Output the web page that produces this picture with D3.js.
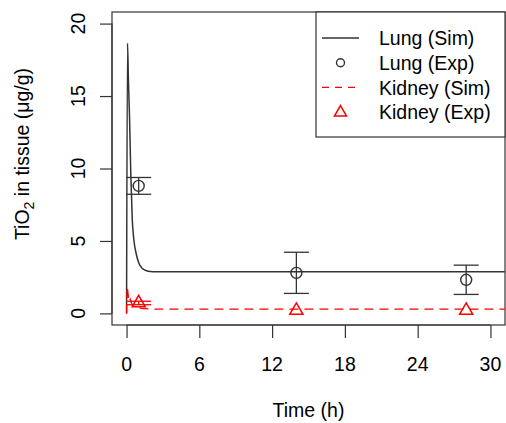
<!DOCTYPE html>
<html><head><meta charset="utf-8">
<script src="https://cdn.jsdelivr.net/npm/d3@7"></script>
<style>body{margin:0;background:#fff}svg{display:block}text{font-family:"Liberation Sans",Arial,sans-serif;fill:#000}</style>
</head><body><svg id="c" width="506" height="423"></svg>
<script>
// ---- data ----
const xTicks = [0, 6, 12, 18, 24, 30];
const yTicks = [0, 5, 10, 15, 20];
const lungSimTime = [0, 0.08, 0.15, 0.25, 0.35, 0.47, 0.6, 0.8, 1.0, 1.3, 1.7, 2.2, 3, 6, 12, 20, 32];
const lungSimVal  = [0, 18.65, 16.2, 13.4, 9.6, 6.5, 5.1, 4.1, 3.5, 3.1, 2.93, 2.88, 2.87, 2.87, 2.87, 2.87, 2.87];
const kidSimTime = [0, 0.05, 0.2, 0.3, 0.45, 0.7, 1.2, 2, 32];
const kidSimVal  = [0, 1.88, 0.8, 0.98, 0.6, 0.45, 0.35, 0.3, 0.3];
const expTime = [1, 14, 28];
const lungExpMean = [8.8, 2.8, 2.32];
const lungExpSd   = [0.58, 1.42, 1.01];
const kidExpMean  = [0.72, 0.2, 0.2];
const kidExpSd    = [0.12, 0, 0];
const legendLabels = ["Lung (Sim)", "Lung (Exp)", "Kidney (Sim)", "Kidney (Exp)"];

// ---- layout ----
const L = 112, R = 505, T = 12, B = 325;
const svg = d3.select("#c");
const x = d3.scaleLinear().domain([-1.2, 31.2]).range([L, R]);
const y = d3.scaleLinear().domain([-0.8, 20.8]).range([B, T]);
const axisCol = "#333";
const red = "#ff0000";

svg.append("defs").append("clipPath").attr("id", "clip")
  .append("rect").attr("x", L).attr("y", T).attr("width", R - L).attr("height", B - T);

// axes (ticks only)
const xa = svg.append("g").attr("transform", `translate(0,${B})`)
  .call(d3.axisBottom(x).tickValues(xTicks).tickSize(13).tickFormat(""));
const ya = svg.append("g").attr("transform", `translate(${L},0)`)
  .call(d3.axisLeft(y).tickValues(yTicks).tickSize(12).tickFormat(""));
[xa, ya].forEach(g => { g.select(".domain").remove(); g.selectAll("line").attr("stroke", axisCol).attr("stroke-width", 1.2); });
// axis lines spanning tick range
svg.append("line").attr("x1", x(0)).attr("x2", x(30)).attr("y1", B).attr("y2", B).attr("stroke", axisCol).attr("stroke-width", 1.2);
svg.append("line").attr("x1", L).attr("x2", L).attr("y1", y(0)).attr("y2", y(20)).attr("stroke", axisCol).attr("stroke-width", 1.2);

// tick labels
svg.selectAll(".xl").data(xTicks).enter().append("text")
  .attr("x", d => x(d)).attr("y", 371).attr("text-anchor", "middle")
  .attr("font-size", 19.5).text(d => d);
svg.selectAll(".yl").data(yTicks).enter().append("text")
  .attr("transform", d => `translate(85,${y(d)}) rotate(-90)`)
  .attr("text-anchor", "middle").attr("font-size", 19.5).text(d => d);

// axis titles
svg.append("text").attr("x", (L + R) / 2).attr("y", 417).attr("text-anchor", "middle")
  .attr("font-size", 19.5).text("Time (h)");
const yt = svg.append("text").attr("transform", "translate(29,154) rotate(-90)")
  .attr("text-anchor", "middle").attr("font-size", 19.5);
yt.append("tspan").text("TiO");
yt.append("tspan").attr("font-size", 14).attr("dy", 5).text("2");
yt.append("tspan").attr("dy", -5).text(" in tissue (μg/g)");

// plot box
svg.append("rect").attr("x", L).attr("y", T).attr("width", R - L).attr("height", B - T)
  .attr("fill", "none").attr("stroke", axisCol).attr("stroke-width", 1.2);

const plot = svg.append("g").attr("clip-path", "url(#clip)");
const line = d3.line().x(d => x(d[0])).y(d => y(d[1]));

// Lung sim
plot.append("path").datum(d3.zip(lungSimTime, lungSimVal)).attr("d", line.curve(d3.curveMonotoneX))
  .attr("fill", "none").attr("stroke", "#333").attr("stroke-width", 1.5);
// Kidney sim
plot.append("path").datum(d3.zip(kidSimTime, kidSimVal)).attr("d", d3.line().x(d => x(d[0])).y(d => y(d[1])))
  .attr("fill", "none").attr("stroke", red).attr("stroke-width", 1.3).attr("stroke-dasharray", "9,6");

// error bars helper
function errBars(means, sds, col) {
  expTime.forEach((t, i) => {
    if (sds[i] <= 0) return;
    const cx = x(t), y1 = y(means[i] + sds[i]), y2 = y(means[i] - sds[i]);
    const g = plot.append("g").attr("stroke", col).attr("stroke-width", 1.3);
    g.append("line").attr("x1", cx).attr("x2", cx).attr("y1", y1).attr("y2", y2);
    g.append("line").attr("x1", cx - 12.5).attr("x2", cx + 12.5).attr("y1", y1).attr("y2", y1);
    g.append("line").attr("x1", cx - 12.5).attr("x2", cx + 12.5).attr("y1", y2).attr("y2", y2);
  });
}
errBars(lungExpMean, lungExpSd, "#333");
errBars(kidExpMean, kidExpSd, red);

// Lung exp circles
plot.selectAll(".lc").data(expTime).enter().append("circle")
  .attr("cx", d => x(d)).attr("cy", (d, i) => y(lungExpMean[i])).attr("r", 5.5)
  .attr("fill", "none").attr("stroke", "#333").attr("stroke-width", 1.4);
// Kidney exp triangles
const tri = (cx, cy, r) => `M${cx},${cy - r}L${cx + r * 0.866},${cy + r / 2}L${cx - r * 0.866},${cy + r / 2}Z`;
plot.selectAll(".kt").data(expTime).enter().append("path")
  .attr("d", (d, i) => tri(x(d), y(kidExpMean[i]), 7.6))
  .attr("fill", "none").attr("stroke", red).attr("stroke-width", 1.5);

// legend
const lg = svg.append("g");
lg.append("rect").attr("x", 316).attr("y", T).attr("width", R - 316).attr("height", 137 - T)
  .attr("fill", "#fff").attr("stroke", axisCol).attr("stroke-width", 1.2);
const ly = [38, 62.7, 87.4, 112.1];
lg.append("line").attr("x1", 322).attr("x2", 359).attr("y1", ly[0]).attr("y2", ly[0]).attr("stroke", "#333").attr("stroke-width", 1.5);
lg.append("circle").attr("cx", 340.5).attr("cy", ly[1]).attr("r", 4).attr("fill", "none").attr("stroke", "#333").attr("stroke-width", 1.4);
lg.append("line").attr("x1", 322).attr("x2", 359).attr("y1", ly[2]).attr("y2", ly[2]).attr("stroke", red).attr("stroke-width", 1.3).attr("stroke-dasharray", "7,6");
lg.append("path").attr("d", tri(340.5, ly[3] + 0.5, 7)).attr("fill", "none").attr("stroke", red).attr("stroke-width", 1.5);
lg.selectAll(".lt").data(legendLabels).enter().append("text")
  .attr("x", 379).attr("y", (d, i) => ly[i] + 7.3).attr("font-size", 19.5).text(d => d);
</script>
</body></html>
